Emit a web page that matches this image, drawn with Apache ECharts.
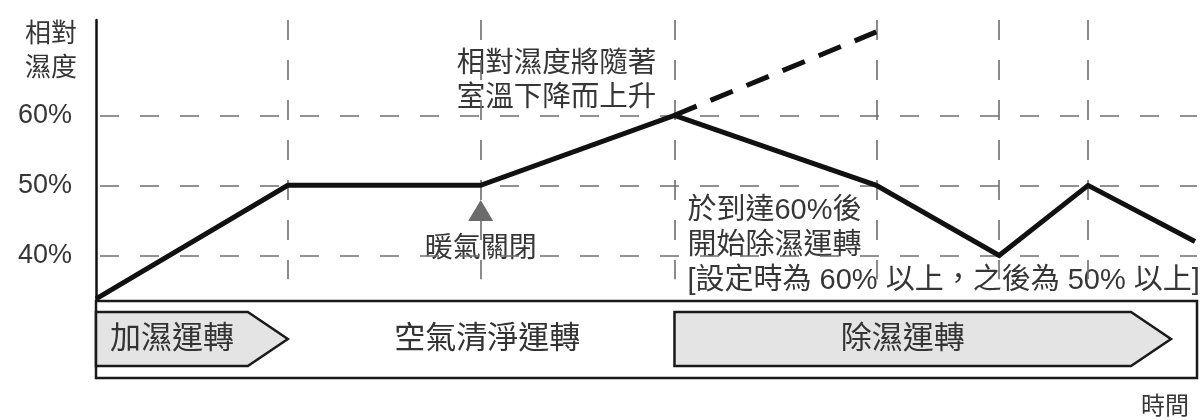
<!DOCTYPE html>
<html><head><meta charset="utf-8">
<script src="https://cdn.jsdelivr.net/npm/echarts@6/dist/echarts.min.js"></script>
<style>html,body{margin:0;padding:0;background:#fff}#c{width:1200px;height:420px}</style>
</head><body><div id="c"></div>
<script>
// ---- data (time in arbitrary units, humidity in %) ----
const times = [0, 19.2, 38.5, 57.9, 78.1, 90.4, 99.3, 110.0];
const humidity = [33.8, 50, 50, 60, 50, 40, 50, 42];
const projectedTimes = [57.9, 78.1];
const projectedHumidity = [60, 71.9];
const guideTimes = [19.2, 38.5, 57.9, 78.1, 90.4, 99.3];
const levelTicks = [40, 50, 60];
const phaseNames = ['加濕運轉', '空氣清淨運轉', '除濕運轉'];
const phaseStart = [0, 19.2, 57.9];
const phaseEnd = [19.2, 57.9, 107.6];
const phaseActive = [true, false, true];
const noteTexts = [
  ['相對濕度將隨著', '室溫下降而上升'],
  ['暖氣關閉'],
  ['於到達60%後', '開始除濕運轉', '[設定時為 60% 以上，之後為 50% 以上]']
];
const noteX = [46.1, 38.5, 58.8];
const noteY = [70.8, 43.0, 48.9];
const heaterOff = [38.5, 46.4];
const axisName = '相對\n濕度';
const timeName = '時間';
const xMin = 0, xMax = 110.2, yMin = 22.51, yMax = 73.6;
const guideTop = 73.6, guideBottom = 36.6;

// ---- styles ----
const FONT = '"Liberation Sans", "Noto Sans CJK TC", sans-serif';
const TEXT = '#363636';
const GRID = '#6e6e6e';
const noteAlign = ['center', 'center', 'left'];
const noteSize = [28.5, 28, 29];
const notePad = [[8, 17, 3], [0, 3, 0], [0, 4, 0]];
const noteLine = [34, 30, 35];

const chart = echarts.init(document.getElementById('c'), null, {renderer: 'canvas'});

const guideLines = guideTimes.map(t => [
  {coord: [t, guideTop]}, {coord: [t, guideBottom]}
]);

const option = {
  animation: false,
  backgroundColor: '#fff',
  grid: {left: 96, right: 2, top: 20, bottom: 38, containLabel: false},
  xAxis: {
    type: 'value', min: xMin, max: xMax,
    axisLine: {show: false}, axisTick: {show: false}, axisLabel: {show: false}, splitLine: {show: false},
    name: timeName, nameLocation: 'end', nameGap: 0,
    nameTextStyle: {fontFamily: FONT, fontSize: 24, color: TEXT, align: 'right', verticalAlign: 'top', lineHeight: 26, padding: [16, 8, 0, 0]}
  },
  yAxis: {
    type: 'value', min: yMin, max: yMax,
    axisLine: {show: true, lineStyle: {color: '#111', width: 2.5}},
    axisTick: {show: false},
    splitLine: {show: false},
    axisLabel: {customValues: levelTicks, formatter: '{value}%', fontFamily: FONT, fontSize: 27, color: TEXT, margin: 24},
    name: axisName, nameLocation: 'end', nameGap: 0,
    nameTextStyle: {fontFamily: FONT, fontSize: 26, color: TEXT, align: 'right', verticalAlign: 'top', lineHeight: 34, padding: [-2, 19, 0, 0]}
  },
  series: [
    {
      name: 'guides', type: 'line', data: [], z: 1, silent: true,
      markLine: {
        silent: true, symbol: 'none', label: {show: false}, animation: false,
        lineStyle: {color: GRID, width: 1.6, type: [19, 21], dashOffset: 36},
        data: levelTicks.map(v => ({yAxis: v}))
      }
    },
    {
      name: 'vguides', type: 'line', data: [], z: 1, silent: true,
      markLine: {
        silent: true, symbol: 'none', label: {show: false}, animation: false,
        lineStyle: {color: GRID, width: 1.6, type: [20, 20]},
        data: guideLines
      }
    },
    {
      name: 'frame', type: 'custom', z: 2, silent: true,
      data: [[xMin, xMax]],
      renderItem: function (params, api) {
        const cs = params.coordSys;
        const bottom = cs.y + cs.height;
        const x0 = api.coord([api.value(0), yMin])[0];
        const x1 = api.coord([api.value(1), yMin])[0];
        return {type: 'rect', shape: {x: x0, y: bottom - 77, width: x1 - x0, height: 77},
          style: {fill: '#fff', stroke: '#1a1a1a', lineWidth: 2.5}};
      }
    },
    {
      name: 'phases', type: 'custom', z: 3, silent: true,
      data: phaseNames.map((n, i) => [phaseStart[i], phaseEnd[i], i]),
      renderItem: function (params, api) {
        const cs = params.coordSys;
        const bottom = cs.y + cs.height;
        const i = api.value(2);
        const left = api.coord([api.value(0), yMin])[0];
        const tip = api.coord([api.value(1), yMin])[0];
        const mid = bottom - 39;
        const children = [];
        let cx = (left + tip) / 2 + 6;
        if (phaseActive[i]) {
          const sh = tip - 40;
          children.push({type: 'polygon', shape: {points: [[left, bottom - 66], [sh, bottom - 66], [tip, mid], [sh, bottom - 12], [left, bottom - 12]]},
            style: {fill: '#e4e4e4', stroke: '#1a1a1a', lineWidth: 2.5, lineJoin: 'miter'}});
          cx = (left + sh) / 2;
        }
        children.push({type: 'text', x: cx, y: mid, style: {text: phaseNames[i], fontFamily: FONT, fontSize: 31, fill: '#333', align: 'center', verticalAlign: 'middle'}});
        return {type: 'group', children: children};
      }
    },
    {
      name: 'notes', type: 'custom', z: 4, silent: true,
      data: noteTexts.map((t, i) => [noteX[i], noteY[i], i]),
      renderItem: function (params, api) {
        const i = api.value(2);
        const p = api.coord([api.value(0), api.value(1)]);
        const lines = noteTexts[i];
        const pad = notePad[i], L = noteLine[i], n = lines.length;
        return {type: 'group', children: lines.map((s, k) => ({
          type: 'text', x: p[0], y: p[1] + (k > 0 ? pad[0] + k * L : 0),
          style: {text: s, fontFamily: FONT, fontSize: noteSize[i], fill: TEXT, lineHeight: L,
            align: noteAlign[i], verticalAlign: 'top', backgroundColor: '#fff',
            padding: [k === 0 ? pad[0] : 0, pad[1], k === n - 1 ? pad[2] : 0, pad[1]]}
        }))};
      }
    },
    {
      name: 'projected', type: 'line', z: 5, symbol: 'none', silent: true,
      data: projectedTimes.map((t, i) => [t, projectedHumidity[i]]),
      lineStyle: {color: '#111', width: 5, type: [24, 15], cap: 'butt'}
    },
    {
      name: 'humidity', type: 'line', z: 6, symbol: 'none', silent: true,
      data: times.map((t, i) => [t, humidity[i]]),
      lineStyle: {color: '#111', width: 5, join: 'miter'},
      markPoint: {
        silent: true, animation: false,
        data: [{coord: heaterOff, symbol: 'triangle', symbolSize: [25, 21], itemStyle: {color: '#6b6b6b'}, label: {show: false}}]
      }
    }
  ]
};
chart.setOption(option);
</script></body></html>
